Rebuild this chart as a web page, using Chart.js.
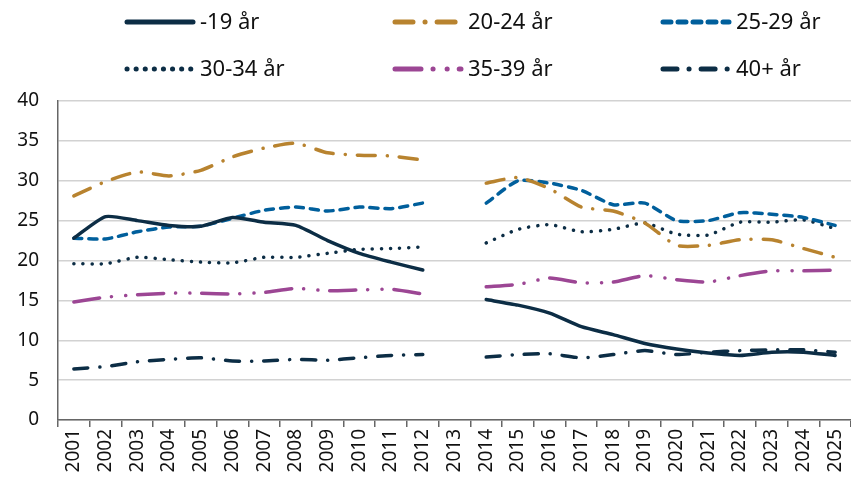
<!DOCTYPE html>
<html lang="sv">
<head>
<meta charset="UTF-8">
<title>Andel per åldersgrupp</title>
<script src="https://cdn.jsdelivr.net/npm/chart.js"></script>
<style>
  html, body { margin: 0; padding: 0; background: #fff; }
  .wrap { width: 851px; height: 484px; position: relative; }
</style>
</head>
<body>
<div class="wrap"><canvas id="lineChart"></canvas></div>
<script>
// categories (2013 saknas)
const years = ["2001","2002","2003","2004","2005","2006","2007","2008","2009","2010","2011","2012","2013",
               "2014","2015","2016","2017","2018","2019","2020","2021","2022","2023","2024","2025"];

const under19 = [22.8, 25.5, 25.0, 24.4, 24.3, 25.4, 24.8, 24.4, 22.5, 20.9, 19.8, 18.8, null,
                 15.1, 14.4, 13.4, 11.7, 10.7, 9.6, 8.9, 8.4, 8.1, 8.5, 8.5, 8.1];
const age2024 = [28.1, 29.9, 31.1, 30.6, 31.3, 33.0, 34.1, 34.7, 33.5, 33.2, 33.1, 32.6, null,
                 29.7, 30.4, 29.0, 26.7, 26.2, 24.7, 21.9, 21.9, 22.6, 22.6, 21.5, 20.4];
const age2529 = [22.8, 22.7, 23.6, 24.2, 24.3, 25.3, 26.3, 26.7, 26.2, 26.7, 26.5, 27.2, null,
                 27.2, 30.0, 29.7, 28.8, 27.0, 27.2, 25.0, 25.0, 26.0, 25.8, 25.4, 24.4];
const age3034 = [19.6, 19.6, 20.4, 20.1, 19.8, 19.7, 20.4, 20.4, 20.9, 21.4, 21.5, 21.7, null,
                 22.2, 23.9, 24.5, 23.6, 23.9, 24.7, 23.3, 23.2, 24.8, 24.8, 25.1, 24.0];
const age3539 = [14.8, 15.4, 15.7, 15.9, 15.9, 15.8, 16.0, 16.5, 16.2, 16.3, 16.4, 15.8, null,
                 16.7, 17.0, 17.8, 17.2, 17.3, 18.1, 17.6, 17.3, 18.1, 18.7, 18.7, 18.8];
const age40 = [6.4, 6.7, 7.3, 7.6, 7.8, 7.4, 7.4, 7.6, 7.5, 7.8, 8.1, 8.2, null,
               7.9, 8.2, 8.3, 7.8, 8.2, 8.7, 8.2, 8.5, 8.7, 8.8, 8.8, 8.5];

const yTicks = [0, 5, 10, 15, 20, 25, 30, 35, 40];

const NAVY = "#0c2d45";
const GOLD = "#b8832f";
const BLUE = "#005f9c";
const PURPLE = "#9c4694";

function series(label, data, color, dash) {
  return {
    label: label,
    data: data,
    borderColor: color,
    backgroundColor: color,
    borderWidth: 3.5,
    borderDash: dash,
    borderCapStyle: "round",
    borderJoinStyle: "round",
    pointRadius: 0,
    tension: 0.2,
    spanGaps: false,
    fill: false
  };
}

// legend drawn by hand: 3 columns x 2 rows, line sample + text
const legendPlugin = {
  id: "gridLegend",
  afterDraw(chart) {
    const ctx = chart.ctx;
    const cols = [125, 393, 661];
    const rows = [22, 69];
    chart.data.datasets.forEach(function (ds, i) {
      const x = cols[i % 3];
      const y = rows[Math.floor(i / 3)];
      ctx.save();
      ctx.strokeStyle = ds.borderColor;
      ctx.lineWidth = 5;
      ctx.lineCap = "round";
      ctx.setLineDash(ds.borderDash || []);
      ctx.beginPath();
      ctx.moveTo(x + 2, y);
      ctx.lineTo(x + 68, y);
      ctx.stroke();
      ctx.setLineDash([]);
      ctx.fillStyle = "#111";
      ctx.font = "22px 'Noto Sans'";
      ctx.textBaseline = "middle";
      ctx.fillText(ds.label, x + 75, y + 1);
      ctx.restore();
    });
  }
};

const ctx = document.getElementById("lineChart").getContext("2d");
new Chart(ctx, {
  type: "line",
  data: {
    labels: years,
    datasets: [
      series("-19 år", under19, NAVY, []),
      series("20-24 år", age2024, GOLD, [18, 12, 0.1, 12]),
      series("25-29 år", age2529, BLUE, [8, 7]),
      series("30-34 år", age3034, NAVY, [0.1, 9]),
      series("35-39 år", age3539, PURPLE, [26, 12, 0.1, 14, 0.1, 12]),
      series("40+ år", age40, NAVY, [14, 12, 0.1, 12])
    ]
  },
  options: {
    responsive: true,
    maintainAspectRatio: false,
    animation: false,
    layout: { padding: { top: 101, right: 0, left: 0, bottom: 0 } },
    plugins: {
      legend: { display: false },
      tooltip: { enabled: false }
    },
    scales: {
      x: {
        offset: true,
        grid: {
          display: true,
          drawOnChartArea: false,
          offset: true,
          tickLength: 7,
          color: "#666",
          lineWidth: 1.5
        },
        border: { color: "#666", width: 1.5 },
        ticks: {
          minRotation: 90,
          maxRotation: 90,
          autoSkip: false,
          padding: 2,
          color: "#111",
          font: { family: "'Noto Sans'", size: 19 }
        },
        afterFit(scale) {
          scale.height = 64;
          scale.paddingRight = 0;
          scale.paddingLeft = 0;
        }
      },
      y: {
        min: 0,
        max: 40,
        afterBuildTicks(scale) { scale.ticks = yTicks.map(v => ({ value: v })); },
        grid: {
          color: "#d2d2d2",
          lineWidth: 1.5,
          drawTicks: false
        },
        border: { color: "#666", width: 1.5 },
        ticks: {
          padding: 19,
          color: "#111",
          font: { family: "'Noto Sans'", size: 19 }
        },
        afterFit(scale) { scale.width = 58; }
      }
    }
  },
  plugins: [legendPlugin]
});
</script>
</body>
</html>
